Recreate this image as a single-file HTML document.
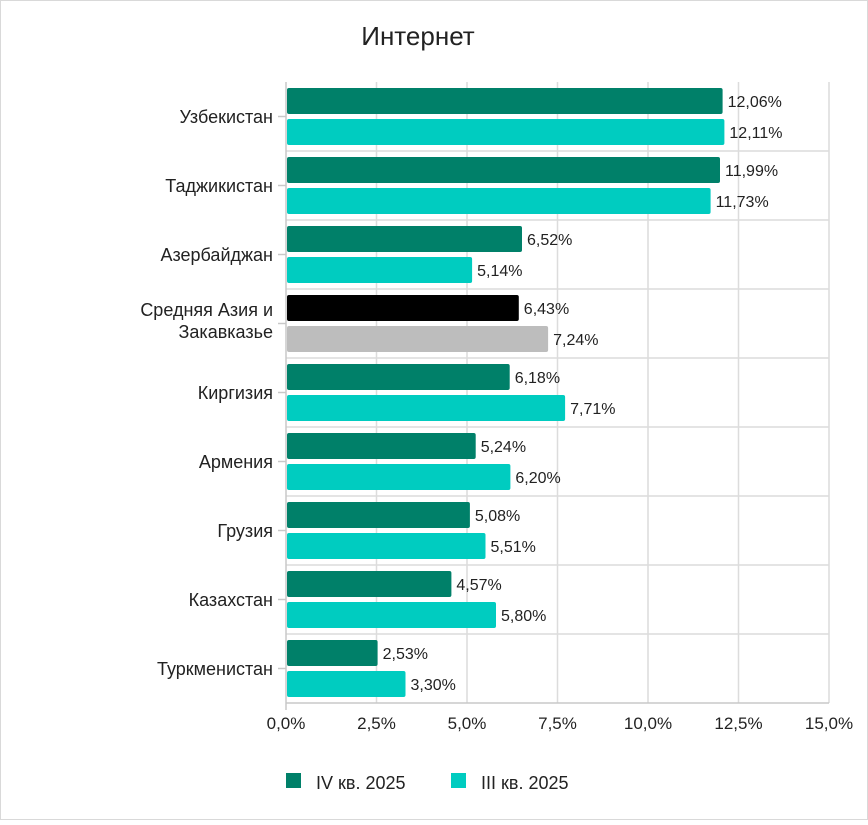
<!DOCTYPE html><html><head><meta charset="utf-8"><style>body{margin:0;background:#fff}</style></head><body>
<svg width="868" height="820" xmlns="http://www.w3.org/2000/svg" font-family="Liberation Sans, sans-serif">
<rect x="0.5" y="0.5" width="867" height="819" fill="#fff" stroke="#d9d9d9"/>
<text x="418" y="45" font-size="26" text-anchor="middle" fill="#222">Интернет</text>
<g stroke="#dcdcdc" stroke-width="1.5">
<line x1="376.5" y1="82" x2="376.5" y2="703"/><line x1="467" y1="82" x2="467" y2="703"/><line x1="557.5" y1="82" x2="557.5" y2="703"/><line x1="648" y1="82" x2="648" y2="703"/><line x1="738.5" y1="82" x2="738.5" y2="703"/><line x1="829" y1="82" x2="829" y2="703"/>
<line x1="286" y1="151" x2="829" y2="151"/><line x1="286" y1="220" x2="829" y2="220"/><line x1="286" y1="289" x2="829" y2="289"/><line x1="286" y1="358" x2="829" y2="358"/><line x1="286" y1="427" x2="829" y2="427"/><line x1="286" y1="496" x2="829" y2="496"/><line x1="286" y1="565" x2="829" y2="565"/><line x1="286" y1="634" x2="829" y2="634"/>
</g>
<g stroke="#c8c8c8" stroke-width="1.5"><line x1="286" y1="82" x2="286" y2="710"/><line x1="286" y1="703" x2="829" y2="703"/>
<line x1="278" y1="116.5" x2="286" y2="116.5"/><line x1="278" y1="185.5" x2="286" y2="185.5"/><line x1="278" y1="254.5" x2="286" y2="254.5"/><line x1="278" y1="323.5" x2="286" y2="323.5"/><line x1="278" y1="392.5" x2="286" y2="392.5"/><line x1="278" y1="461.5" x2="286" y2="461.5"/><line x1="278" y1="530.5" x2="286" y2="530.5"/><line x1="278" y1="599.5" x2="286" y2="599.5"/><line x1="278" y1="668.5" x2="286" y2="668.5"/></g>
<g font-size="18" fill="#222" text-anchor="end">
<text x="273" y="123">Узбекистан</text><text x="273" y="192">Таджикистан</text><text x="273" y="261">Азербайджан</text><text x="273" y="316">Средняя Азия и</text><text x="273" y="338">Закавказье</text><text x="273" y="399">Киргизия</text><text x="273" y="468">Армения</text><text x="273" y="537">Грузия</text><text x="273" y="606">Казахстан</text><text x="273" y="675">Туркменистан</text>
</g>
<g>
<rect x="287" y="88" width="435.6" height="26" rx="2" fill="#008069"/><rect x="287" y="119" width="437.4" height="26" rx="2" fill="#00CCC0"/>
<rect x="287" y="157" width="433" height="26" rx="2" fill="#008069"/><rect x="287" y="188" width="423.6" height="26" rx="2" fill="#00CCC0"/>
<rect x="287" y="226" width="235" height="26" rx="2" fill="#008069"/><rect x="287" y="257" width="185.1" height="26" rx="2" fill="#00CCC0"/>
<rect x="287" y="295" width="231.8" height="26" rx="2" fill="#000"/><rect x="287" y="326" width="261.1" height="26" rx="2" fill="#BDBDBD"/>
<rect x="287" y="364" width="222.7" height="26" rx="2" fill="#008069"/><rect x="287" y="395" width="278.1" height="26" rx="2" fill="#00CCC0"/>
<rect x="287" y="433" width="188.7" height="26" rx="2" fill="#008069"/><rect x="287" y="464" width="223.4" height="26" rx="2" fill="#00CCC0"/>
<rect x="287" y="502" width="182.9" height="26" rx="2" fill="#008069"/><rect x="287" y="533" width="198.5" height="26" rx="2" fill="#00CCC0"/>
<rect x="287" y="571" width="164.4" height="26" rx="2" fill="#008069"/><rect x="287" y="602" width="209" height="26" rx="2" fill="#00CCC0"/>
<rect x="287" y="640" width="90.6" height="26" rx="2" fill="#008069"/><rect x="287" y="671" width="118.5" height="26" rx="2" fill="#00CCC0"/>
</g>
<g font-size="16" fill="#222">
<text x="727.6" y="107">12,06%</text><text x="729.4" y="138">12,11%</text>
<text x="725" y="176">11,99%</text><text x="715.6" y="207">11,73%</text>
<text x="527" y="245">6,52%</text><text x="477.1" y="276">5,14%</text>
<text x="523.8" y="314">6,43%</text><text x="553.1" y="345">7,24%</text>
<text x="514.7" y="383">6,18%</text><text x="570.1" y="414">7,71%</text>
<text x="480.7" y="452">5,24%</text><text x="515.4" y="483">6,20%</text>
<text x="474.9" y="521">5,08%</text><text x="490.5" y="552">5,51%</text>
<text x="456.4" y="590">4,57%</text><text x="501" y="621">5,80%</text>
<text x="382.6" y="659">2,53%</text><text x="410.5" y="690">3,30%</text>
</g>
<g font-size="17" fill="#222" text-anchor="middle">
<text x="286" y="729">0,0%</text><text x="376.5" y="729">2,5%</text><text x="467" y="729">5,0%</text><text x="557.5" y="729">7,5%</text><text x="648" y="729">10,0%</text><text x="738.5" y="729">12,5%</text><text x="829" y="729">15,0%</text>
</g>
<rect x="286" y="773" width="15" height="15" fill="#008069"/><text x="316" y="789" font-size="18" fill="#222">IV кв. 2025</text>
<rect x="451" y="773" width="15" height="15" fill="#00CCC0"/><text x="481" y="789" font-size="18" fill="#222">III кв. 2025</text>
</svg></body></html>
